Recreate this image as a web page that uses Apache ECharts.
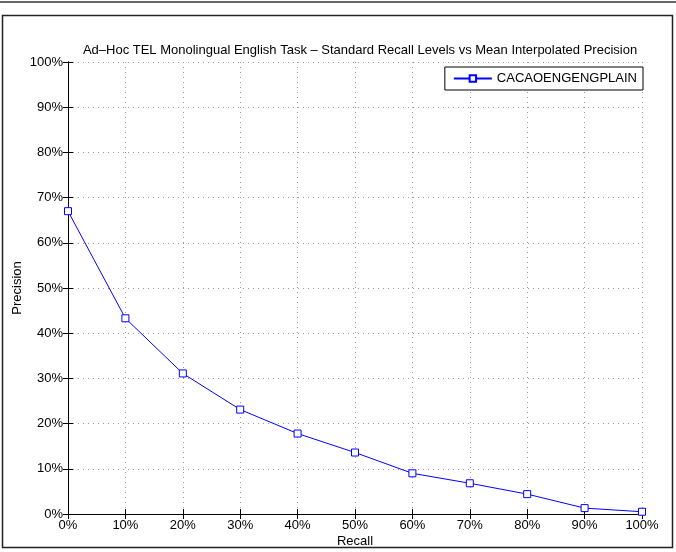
<!DOCTYPE html>
<html>
<head>
<meta charset="utf-8">
<script src="https://cdn.jsdelivr.net/npm/echarts@6/dist/echarts.min.js"></script>
<style>
  html, body { margin: 0; padding: 0; background: #fff; }
  #main { width: 676px; height: 552px; }
</style>
</head>
<body>
<div id="main"></div>
<script>
const recall = [0, 10, 20, 30, 40, 50, 60, 70, 80, 90, 100]
const precision = [67.0, 43.3, 31.1, 23.1, 17.8, 13.6, 9.0, 6.8, 4.4, 1.3, 0.5]
const seriesName = 'CACAOENGENGPLAIN'

const font = 'Liberation Sans, Arial, sans-serif'
const points = recall.map((r, i) => [r, precision[i]])

let myChart = echarts.init(document.getElementById('main'))

const dotted = { show: true, lineStyle: { color: '#999', type: [1, 4], width: 1 } }

myChart.setOption({
    animation: false,
    title: {
        text: 'Ad\u2013Hoc TEL Monolingual English Task \u2013 Standard Recall Levels vs Mean Interpolated Precision',
        left: 355,
        textAlign: 'center',
        top: 39,
        textStyle: { fontFamily: font, fontSize: 13, fontWeight: 'normal', color: '#000' }
    },
    legend: {
        data: [seriesName],
        right: 33,
        top: 67,
        orient: 'vertical',
        borderColor: '#000',
        borderWidth: 1,
        backgroundColor: '#fff',
        padding: [5, 6, 5, 8],
        itemWidth: 38,
        itemHeight: 8,
        itemGap: 4,
        textStyle: { fontFamily: font, fontSize: 13, color: '#000' }
    },
    grid: { left: 68, right: 34, top: 62, bottom: 38, containLabel: false, outerBoundsMode: 'none' },
    xAxis: [{
        type: 'value', min: 0, max: 100, interval: 10,
        axisLine: { lineStyle: { color: '#000', width: 1 } },
        axisTick: { inside: true, length: 5, lineStyle: { color: '#000' } },
        axisLabel: { formatter: '{value}%', fontFamily: font, fontSize: 13, color: '#000', margin: 5 },
        splitLine: dotted
    }, {
        type: 'value', min: 0, max: 100, interval: 10, position: 'top',
        axisLine: { show: true, lineStyle: { color: '#000', width: 1 } },
        axisTick: { show: true, inside: true, length: 5, lineStyle: { color: '#000' } },
        axisLabel: { show: false },
        splitLine: { show: false }
    }],
    yAxis: [{
        type: 'value', min: 0, max: 100, interval: 10,
        axisLine: { show: true, lineStyle: { color: '#000', width: 1 } },
        axisTick: { show: true, inside: true, length: 5, lineStyle: { color: '#000' } },
        axisLabel: { formatter: '{value}%', fontFamily: font, fontSize: 13, color: '#000', margin: 5 },
        splitLine: dotted
    }, {
        type: 'value', min: 0, max: 100, interval: 10, position: 'right',
        axisLine: { show: true, lineStyle: { color: '#000', width: 1 } },
        axisTick: { show: true, inside: true, length: 5, lineStyle: { color: '#000' } },
        axisLabel: { show: false },
        splitLine: { show: false }
    }],
    series: [{
        name: seriesName,
        type: 'line',
        data: points,
        symbol: 'rect',
        symbolSize: 7,
        showAllSymbol: true,
        lineStyle: { color: '#0000ff', width: 1 },
        itemStyle: { color: '#fff', borderColor: '#0000ff', borderWidth: 1 },
        color: '#0000ff'
    }],
    graphic: [{
        type: 'line',
        shape: { x1: 0, y1: 2, x2: 676, y2: 2 },
        style: { stroke: '#333', lineWidth: 1.5 }
    }, {
        type: 'rect',
        shape: { x: 2.5, y: 15.5, width: 670, height: 532 },
        style: { fill: 'none', stroke: '#222', lineWidth: 1.5 }
    }, {
        // axis titles
        type: 'text',
        x: 355, y: 541,
        style: { text: 'Recall', font: '13px ' + font, fill: '#000', align: 'center', verticalAlign: 'middle' }
    }, {
        type: 'text',
        x: 17, y: 288,
        rotation: Math.PI / 2,
        style: { text: 'Precision', font: '13px ' + font, fill: '#000', align: 'center', verticalAlign: 'middle' }
    }]
})
</script>
</body>
</html>
